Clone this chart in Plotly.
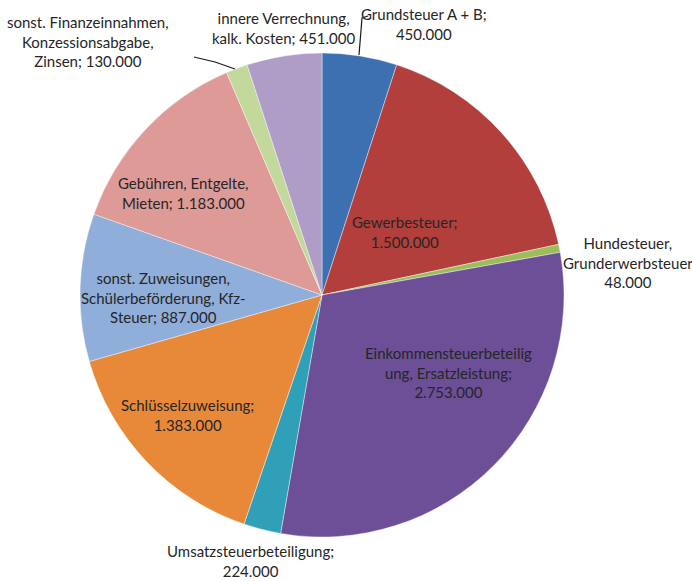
import plotly.graph_objects as go

W, H = 692, 581

categories = [
    "Grundsteuer A + B",
    "Gewerbesteuer",
    "Hundesteuer, Grunderwerbsteuer",
    "Einkommensteuerbeteiligung, Ersatzleistung",
    "Umsatzsteuerbeteiligung",
    "Schlüsselzuweisung",
    "sonst. Zuweisungen, Schülerbeförderung, Kfz-Steuer",
    "Gebühren, Entgelte, Mieten",
    "sonst. Finanzeinnahmen, Konzessionsabgabe, Zinsen",
    "innere Verrechnung, kalk. Kosten",
]
values = [450000, 1500000, 48000, 2753000, 224000, 1383000, 887000, 1183000, 130000, 451000]
colors = ["#3C70B0", "#B23F3B", "#9CBD5A", "#6C4F96", "#2FA0B8",
          "#E8893A", "#8FAEDA", "#DE9A97", "#C3D89B", "#AF9DC8"]

# wrapped label templates (as shown in the chart)
label_templates = [
    "Grundsteuer A + B;<br>{v}",
    "Gewerbesteuer;<br>{v}",
    "Hundesteuer,<br>Grunderwerbsteuer<br>{v}",
    "Einkommensteuerbeteilig<br>ung, Ersatzleistung;<br>{v}",
    "Umsatzsteuerbeteiligung;<br>{v}",
    "Schlüsselzuweisung;<br>{v}",
    "sonst. Zuweisungen,<br>Schülerbeförderung, Kfz-<br>Steuer; {v}",
    "Gebühren, Entgelte,<br>Mieten; {v}",
    "sonst. Finanzeinnahmen,<br>Konzessionsabgabe,<br>Zinsen; {v}",
    "innere Verrechnung,<br>kalk. Kosten; {v}",
]
# label centre positions in pixels (layout)
label_pos = [(424, 24), (405, 232), (628, 262), (448, 372), (250, 561),
             (188, 415), (163, 297), (183, 193), (88, 41), (283, 28)]


def fmt(v):
    return f"{v:,}".replace(",", ".")


def px(x, y):
    return x / W, 1 - y / H


cx, cy, r = 322, 295, 242
fig = go.Figure(go.Pie(
    labels=categories,
    values=values,
    sort=False,
    direction="clockwise",
    rotation=0,
    marker=dict(colors=colors, line=dict(color="rgba(255,255,255,0.5)", width=0.8)),
    textinfo="none",
    hoverinfo="label+value",
    showlegend=False,
    domain=dict(x=[(cx - r) / W, (cx + r) / W], y=[1 - (cy + r) / H, 1 - (cy - r) / H]),
))

annotations = []
for tpl, v, (x, y) in zip(label_templates, values, label_pos):
    ax, ay = px(x, y)
    annotations.append(dict(
        x=ax, y=ay, xref="paper", yref="paper", showarrow=False,
        text=tpl.format(v=fmt(v)), align="center",
        xanchor="center", yanchor="middle",
        font=dict(family="Lato, Open Sans, sans-serif", size=15, color="#262626"),
    ))

# leader lines
leaders = [
    [(359, 55), (362, 18), (368, 16)],
    [(194, 57), (215, 62), (235, 69)],
]
shapes = []
for pts in leaders:
    path = "M " + " L ".join(f"{x / W},{1 - y / H}" for x, y in pts)
    shapes.append(dict(type="path", xref="paper", yref="paper", path=path,
                       line=dict(color="#1a1a1a", width=1.2)))

fig.update_layout(
    width=W, height=H,
    margin=dict(l=0, r=0, t=0, b=0),
    paper_bgcolor="white", plot_bgcolor="white",
    annotations=annotations, shapes=shapes,
)

fig.write_html("out.html", config={"displayModeBar": False},
               post_script="document.body.style.margin='0';document.body.style.overflow='hidden';")
